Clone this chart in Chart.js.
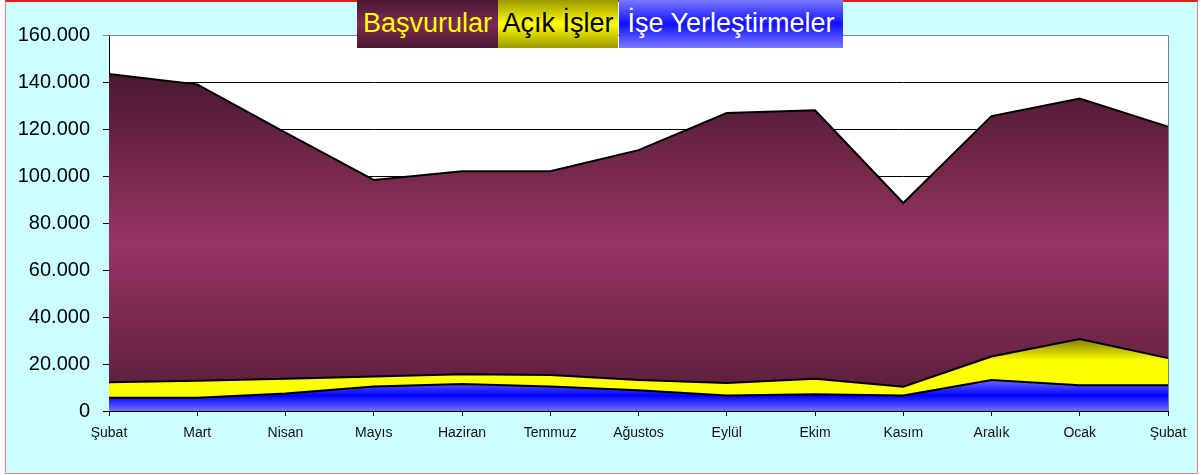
<!DOCTYPE html>
<html>
<head>
    <meta charset="utf-8">
    <style>
        html, body {
            margin: 0;
            padding: 0;
            background: #FFFFFF;
        }

        .chart-wrap {
            position: relative;
            width: 1203px;
            height: 475px;
        }

        .chart-frame {
            position: absolute;
            left: 5px;
            top: 0;
            width: 1191px;
            height: 471px;
            background: #CCFFFF;
            border: 1px solid #FF8080;
            border-top: 2px solid #E02020;
        }

        #area-chart {
            position: absolute;
            left: 0;
            top: 0;
        }

        .legend-box {
            position: absolute;
            top: 0;
            height: 48px;
            line-height: 46px;
            font-family: "Liberation Sans", Arial, sans-serif;
            font-size: 27px;
            text-align: center;
            white-space: nowrap;
        }

        .legend-basvuru {
            left: 357px;
            width: 141px;
            color: #FFFF00;
            background: linear-gradient(to bottom, #4A1830 0%, #7A2A55 50%, #4A1830 100%);
        }

        .legend-acik {
            left: 498px;
            width: 120px;
            color: #000000;
            background: linear-gradient(to bottom, #9A9A00 0%, #FFFF00 50%, #9A9A00 100%);
        }

        .legend-ise {
            left: 619px;
            width: 224px;
            color: #FFFFFF;
            background: linear-gradient(to bottom, #7878FF 0%, #1010FF 50%, #7878FF 100%);
        }
    </style>
</head>
<body>
<div class="chart-wrap">
    <div class="chart-frame"></div>
    <canvas id="area-chart" width="1203" height="475"></canvas>
    <div class="legend-box legend-basvuru">Başvurular</div>
    <div class="legend-box legend-acik">Açık İşler</div>
    <div class="legend-box legend-ise">İşe Yerleştirmeler</div>
</div>

<script src="https://cdn.jsdelivr.net/npm/chart.js"></script>
<script type="text/javascript">
    // aylar ve seriler
    const months = ['Şubat', 'Mart', 'Nisan', 'Mayıs', 'Haziran', 'Temmuz', 'Ağustos', 'Eylül', 'Ekim', 'Kasım', 'Aralık', 'Ocak', 'Şubat'];
    const basvurular = [143400, 139000, 118500, 98300, 102000, 102000, 111000, 126800, 128000, 88500, 125500, 133000, 121000];
    const acikIsler = [12200, 12900, 13700, 14700, 15600, 15300, 13200, 11900, 13700, 10300, 23200, 30600, 22500];
    const iseYerlestirmeler = [5600, 5600, 7400, 10400, 11500, 10400, 8800, 6600, 7100, 6600, 13200, 11000, 11000];
    const yTicks = [0, 20000, 40000, 60000, 80000, 100000, 120000, 140000, 160000];

    const FONT = '"Liberation Sans", Arial, sans-serif';

    class AreaChartPage {
        constructor() {
            this.initChart();
        }

        // dolgu rengi: serinin kendi yuksekliginde dikey gecis
        areaGradient(stops) {
            return (ctx) => {
                const chart = ctx.chart;
                if (!chart.chartArea || !ctx.dataset) {
                    return stops[0][1];
                }
                const yScale = chart.scales.y;
                const top = yScale.getPixelForValue(Math.max(...ctx.dataset.data));
                const bottom = yScale.getPixelForValue(0);
                const g = chart.ctx.createLinearGradient(0, top, 0, bottom);
                stops.forEach(s => g.addColorStop(s[0], s[1]));
                return g;
            };
        }

        initChart() {
            const plotBackground = {
                id: 'plotBackground',
                beforeDraw: (chart) => {
                    const { ctx, chartArea } = chart;
                    ctx.save();
                    ctx.fillStyle = '#FFFFFF';
                    ctx.fillRect(chartArea.left, chartArea.top, chartArea.width, chartArea.height);
                    ctx.restore();
                },
                afterDraw: (chart) => {
                    const { ctx, chartArea } = chart;
                    ctx.save();
                    ctx.strokeStyle = '#808080';
                    ctx.lineWidth = 1;
                    ctx.beginPath();
                    ctx.moveTo(chartArea.left, chartArea.top + 0.5);
                    ctx.lineTo(chartArea.right + 0.5, chartArea.top + 0.5);
                    ctx.lineTo(chartArea.right + 0.5, chartArea.bottom);
                    ctx.stroke();
                    ctx.restore();
                }
            };

            this.chart = new Chart(document.getElementById('area-chart'), {
                type: 'line',
                data: {
                    labels: months,
                    datasets: [
                        {
                            label: 'İşe Yerleştirmeler',
                            data: iseYerlestirmeler,
                            order: 1,
                            fill: 'origin',
                            borderColor: '#000000',
                            borderWidth: 2,
                            pointRadius: 0,
                            tension: 0,
                            backgroundColor: this.areaGradient([[0, '#6A6AFF'], [0.5, '#0000FF'], [1, '#7070FF']])
                        },
                        {
                            label: 'Açık İşler',
                            data: acikIsler,
                            order: 2,
                            fill: 'origin',
                            borderColor: '#000000',
                            borderWidth: 2,
                            pointRadius: 0,
                            tension: 0,
                            backgroundColor: this.areaGradient([[0, '#808000'], [0.3, '#FFFF00'], [1, '#FFFF00']])
                        },
                        {
                            label: 'Başvurular',
                            data: basvurular,
                            order: 3,
                            fill: 'origin',
                            borderColor: '#000000',
                            borderWidth: 2,
                            pointRadius: 0,
                            tension: 0,
                            backgroundColor: this.areaGradient([[0, '#4A1830'], [0.5, '#983464'], [1, '#551C38']])
                        }
                    ]
                },
                options: {
                    responsive: false,
                    animation: false,
                    layout: { padding: { left: 6, top: 35, right: 35, bottom: 0 } },
                    plugins: {
                        legend: { display: false },
                        tooltip: { enabled: false }
                    },
                    scales: {
                        x: {
                            offset: false,
                            afterFit: (s) => { s.height = 64; },
                            border: { color: '#000000', width: 1 },
                            grid: { drawOnChartArea: false, drawTicks: true, tickLength: 5, color: '#000000' },
                            ticks: {
                                color: '#111111',
                                padding: 9,
                                autoSkip: false,
                                maxRotation: 0,
                                font: { family: FONT, size: 14 }
                            }
                        },
                        y: {
                            min: 0,
                            max: 160000,
                            afterFit: (s) => { s.width = 103; },
                            afterBuildTicks: (s) => { s.ticks = yTicks.map(v => ({ value: v })); },
                            border: { color: '#000000', width: 1 },
                            grid: {
                                color: (c) => (c.tick && c.tick.value === 160000 ? '#808080' : '#000000'),
                                lineWidth: 1,
                                tickLength: 6
                            },
                            ticks: {
                                color: '#000000',
                                padding: 13,
                                font: { family: FONT, size: 20 },
                                callback: (v) => v.toLocaleString('de-DE')
                            }
                        }
                    }
                },
                plugins: [plotBackground]
            });
        }
    }

    let page = new AreaChartPage();
</script>
</body>
</html>
